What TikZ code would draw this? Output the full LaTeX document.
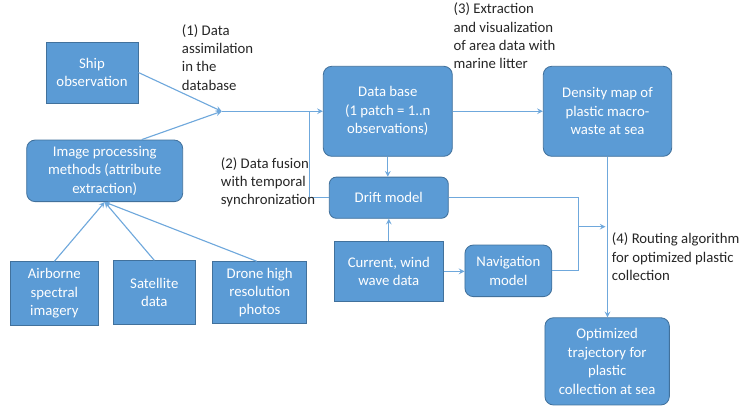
\documentclass[tikz,border=0pt]{standalone}
\usepackage{fontspec}
\setmainfont{Carlito}
\usepackage{tikz}
\usetikzlibrary{arrows,positioning,calc}
\definecolor{boxblue}{HTML}{5B9BD5}
\definecolor{boxedge}{HTML}{41719C}
\definecolor{linkblue}{HTML}{6FA8DC}
\definecolor{labeltext}{HTML}{262626}

\begin{document}
\begin{tikzpicture}[>=stealth,
	sqbox/.style={rectangle, draw=boxedge, fill=boxblue, line width=0.6pt, text=white, align=center, inner sep=1pt, font=\fontsize{10.5}{13.1}\selectfont},
	rdbox/.style={sqbox, rounded corners=6pt},
	link/.style={draw=linkblue, line width=0.8pt},
	steptext/.style={anchor=north west, align=left, inner sep=0pt, text=labeltext, font=\fontsize{10.5}{13.1}\selectfont}]
	\useasboundingbox (0,0) rectangle (18.55,10.175);

	\node (ship) at (2.3,8.3625) [sqbox, minimum width=2.3cm, minimum height=1.525cm] {Ship\\observation};
	\node (img) at (2.6175,5.904) [rdbox, minimum width=3.9cm, minimum height=1.54cm] {Image processing\\methods (attribute\\extraction)};
	\node (air) at (1.359,2.841) [sqbox, minimum width=2.18cm, minimum height=1.58cm] {Airborne\\spectral\\imagery};
	\node (sat) at (3.8575,2.866) [sqbox, minimum width=2.05cm, minimum height=1.58cm] {Satellite\\data};
	\node (drone) at (6.4925,2.8625) [sqbox, minimum width=2.35cm, minimum height=1.54cm] {Drone high\\resolution\\photos};

	\node (db) at (9.695,7.3925) [rdbox, minimum width=3.225cm, minimum height=2.25cm] {Data base\\(1 patch = 1..n\\observations)};
	\node (dens) at (15.1875,7.3925) [rdbox, minimum width=3.21cm, minimum height=2.25cm] {Density map of\\plastic macro-\\waste at sea};
	\node (drift) at (9.72,5.2325) [rdbox, rounded corners=5pt, minimum width=2.975cm, minimum height=1.03cm] {Drift model};
	\node (cur) at (9.72,3.391) [sqbox, minimum width=2.725cm, minimum height=1.52cm] {Current, wind\\wave data};
	\node (nav) at (12.709,3.404) [rdbox, minimum width=2.17cm, minimum height=1.29cm] {Navigation\\model};
	\node (opt) at (15.179,1.141) [rdbox, minimum width=3.11cm, minimum height=2.18cm] {Optimized\\trajectory for\\plastic\\collection at sea};

	\coordinate (join) at (5.5425,7.3925);
	\coordinate (fuse) at (7.7325,7.3925);
	\coordinate (merge) at (14.4575,4.5075);

	\draw [link, ->] (ship.east) -- (join);
	\draw [link, ->] ($(img.north)+(0.925,0)$) -- (join);
	\draw [link, ->] (join) -- (db.west);
	\draw [link] (drift.west) -| (fuse);
	\draw [link, ->] (db.south) -- (db.south |- drift.north);
	\draw [link, ->] (db.east) -- (dens.west);
	\draw [link, ->] (dens.south) -- (dens.south |- opt.north);
	\draw [link, ->] (cur.north) -- (cur.north |- drift.south);
	\draw [link, ->] (cur.east) -- (cur.east -| nav.west);
	\draw [link] (drift.east) -| (merge);
	\draw [link] (nav.east) -| (merge);
	\draw [link, ->] (merge) -- ($(dens.south |- merge)+(-0.05,0)$);
	\draw [link, ->] (air.north) -- (img.south);
	\draw [link, ->] (sat.north) -- (img.south);
	\draw [link, ->] ($(drone.north)+(-0.075,0)$) -- (img.south);

	\node (s1) at (4.5425,9.575) [steptext] {(1) Data\\assimilation\\in the\\database};
	\node (s2) at (5.5175,6.25) [steptext] {(2) Data fusion\\with temporal\\synchronization};
	\node (s3) at (11.3325,10.11) [steptext] {(3) Extraction\\and visualization\\of area data with\\marine litter};
	\node (s4) at (15.2925,4.3575) [steptext] {(4) Routing algorithm\\for optimized plastic\\collection};
\end{tikzpicture}
\end{document}
